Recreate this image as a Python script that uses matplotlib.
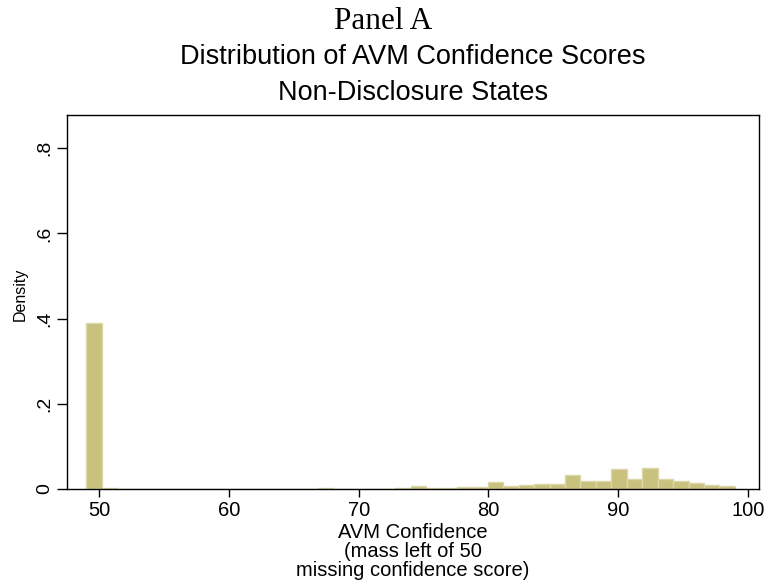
#!/usr/bin/env python3
"""Histogram of AVM confidence scores, non-disclosure states (Panel A)."""

import matplotlib
matplotlib.use("Agg")
import matplotlib.pyplot as plt

# histogram bins: 42 bins from 49 to 99 (49 = missing score)
bin_start = 49.0
bin_end = 99.0
density = [
    0.390, 0.0015, 0.0010, 0.0008, 0.0008, 0.0008, 0.0008, 0.0008,
    0.0008, 0.0008, 0.0008, 0.0008, 0.0008, 0.0008, 0.0008, 0.0022,
    0.0010, 0.0010, 0.0010, 0.0010, 0.0030, 0.0080, 0.0030, 0.0030,
    0.0050, 0.0050, 0.0170, 0.0080, 0.0100, 0.0120, 0.0125, 0.0340,
    0.0180, 0.0190, 0.0470, 0.0235, 0.0485, 0.0227, 0.0196, 0.0149,
    0.0102, 0.0070,
]
x_ticks = [50, 60, 70, 80, 90, 100]
y_ticks = [0, 0.2, 0.4, 0.6, 0.8]
y_tick_labels = ["0", ".2", ".4", ".6", ".8"]

bin_width = (bin_end - bin_start) / len(density)
edges = [bin_start + i * bin_width for i in range(len(density))]

plt.rcParams["font.family"] = ["Liberation Sans", "DejaVu Sans"]

W, H = 766, 586
fig = plt.figure(figsize=(W / 100, H / 100), dpi=100)
ax = fig.add_axes([66.7 / W, 1 - 489 / H, (759 - 66.7) / W, (489 - 115) / H])

ax.bar(edges, density, width=bin_width, align="edge",
       color="#c9c17e", edgecolor="#dcd7a8", linewidth=1.0)

ax.set_xlim(47.49, 100.86)
ax.set_ylim(0, 0.878)
ax.set_xticks(x_ticks)
ax.set_yticks(y_ticks)
ax.set_yticklabels(y_tick_labels, rotation=90, va="center")
ax.tick_params(axis="x", labelsize=14.5, length=6, width=1, pad=3)
ax.tick_params(axis="y", labelsize=14, length=7, width=1, pad=3)
for sp in ax.spines.values():
    sp.set_linewidth(1.0)

ax.set_ylabel("Density", fontsize=11.5)
ax.yaxis.set_label_coords(-0.056, 0.52)
ax.set_xlabel("AVM Confidence\n(mass left of 50\nmissing confidence score)",
              fontsize=14.5, linespacing=1.0, labelpad=2)

# titles
cx_axes = (66.7 + 759) / 2 / W
fig.text(0.5, 1 - 29 / H, "Panel A", ha="center", va="baseline",
         fontsize=22.5, family=["Liberation Serif", "DejaVu Serif"])
fig.text(cx_axes, 1 - 64 / H, "Distribution of AVM Confidence Scores",
         ha="center", va="baseline", fontsize=19.5)
fig.text(cx_axes, 1 - 100 / H, "Non-Disclosure States",
         ha="center", va="baseline", fontsize=19.5)

fig.savefig("out.png", dpi=100)
